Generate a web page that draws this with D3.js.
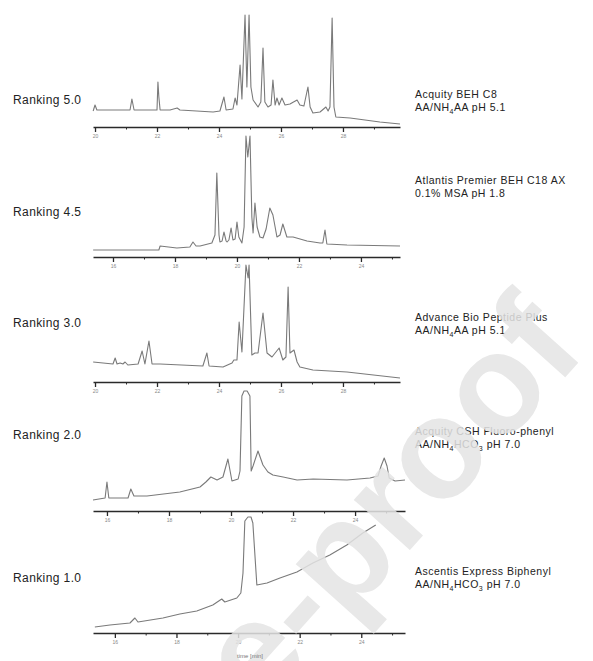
<!DOCTYPE html>
<head>
  <meta charset="utf-8">
  <title>Chromatogram ranking</title>
  <style>
    body { margin: 0; padding: 0; background: #fff; }
    svg { display: block; font-family: 'Liberation Sans', Arial, sans-serif; }
    .trace { fill: none; stroke: #7a7a7a; stroke-width: 1.1; stroke-linejoin: round; }
    .axis path, .axis line { stroke: #2a2a2a; }
    .axis path { stroke-width: 1.6; }
    .axis text { fill: #888; font-size: 5px; }
    .rank { fill: #222; font-size: 12px; letter-spacing: 0.4px; }
    .col { fill: #222; font-size: 10.5px; letter-spacing: 0.5px; }
  </style>
</head>
<body>
  <div id="vis"></div>
  <script src="https://cdnjs.cloudflare.com/ajax/libs/d3/7.8.5/d3.min.js"></script>
  <script>
    // rankings and column / mobile phase labels, top to bottom
    var rankings = ['Ranking 5.0', 'Ranking 4.5', 'Ranking 3.0', 'Ranking 2.0', 'Ranking 1.0'];
    var columns = ['Acquity BEH C8', 'Atlantis Premier BEH C18 AX', 'Advance Bio Peptide Plus',
                   'Acquity CSH Fluoro-phenyl', 'Ascentis Express Biphenyl'];
    var phases = [['AA/NH', '4', 'AA pH 5.1'], ['0.1% MSA pH 1.8'], ['AA/NH', '4', 'AA pH 5.1'],
                  ['AA/NH', '4', 'HCO', '3', ' pH 7.0'], ['AA/NH', '4', 'HCO', '3', ' pH 7.0']];

    // major (labelled) and minor ticks, minutes
    var major50 = [20, 22, 24, 26, 28], minor50 = [21, 23, 25, 27, 29];
    var major45 = [16, 18, 20, 22, 24], minor45 = [17, 19, 21, 23, 25];
    var major30 = [20, 22, 24, 26, 28], minor30 = [21, 23, 25, 27, 29];
    var major20 = [16, 18, 20, 22, 24], minor20 = [17, 19, 21, 23, 25];
    var major10 = [16, 18, 20, 22, 24], minor10 = [17, 19, 21, 23, 25];

    // traces: [time (min), signal]
    var trace50 = [[19.94,16],[20.0,22],[20.06,17],[20.48,17],[20.81,17],[21.13,17],[21.19,28],[21.26,17],
      [21.77,17],[22.0,17],[22.03,45],[22.06,30],[22.1,17],[22.42,17],[22.65,19],[22.74,17],[23.81,15],
      [24.03,16],[24.16,30],[24.23,17],[24.45,18],[24.52,29],[24.58,22],[24.68,62],[24.74,28],[24.84,112],
      [24.9,40],[24.97,112],[25.03,40],[25.1,27],[25.26,20],[25.35,25],[25.42,79],[25.48,25],[25.58,20],
      [25.68,22],[25.74,47],[25.81,22],[25.87,29],[25.94,22],[26.03,29],[26.13,22],[26.29,23],[26.52,27],
      [26.61,22],[26.74,21],[26.87,40],[26.94,20],[27.03,14],[27.26,15],[27.45,20],[27.52,16],[27.58,20],
      [27.65,109],[27.71,20],[27.77,10],[28.23,9],[28.71,7],[29.19,5],[29.84,3]];
    var trace45 = [[15.36,7],[17.48,7],[17.52,11],[18.06,9],[18.48,10],[18.58,15],[18.68,11],[18.81,11],
      [19.19,14],[19.29,22],[19.35,84],[19.42,22],[19.45,15],[19.52,16],[19.58,25],[19.65,16],[19.68,15],
      [19.74,17],[19.81,29],[19.87,17],[19.94,18],[20.0,35],[20.06,20],[20.16,14],[20.23,30],[20.29,121],
      [20.35,100],[20.42,121],[20.48,40],[20.52,24],[20.58,54],[20.65,30],[20.74,20],[20.84,19],[20.94,28],
      [21.06,49],[21.16,42],[21.29,20],[21.39,22],[21.48,33],[21.61,20],[21.81,20],[22.26,16],[22.68,14],
      [22.77,14],[22.84,27],[22.9,13],[23.55,12],[25.26,11]];
    var trace30 = [[19.94,20],[20.58,18],[20.65,24],[20.71,18],[20.81,19],[20.9,18],[20.97,20],[21.06,17],
      [21.39,18],[21.52,31],[21.61,18],[21.74,41],[21.84,18],[22.1,18],[23.48,16],[23.61,29],[23.68,16],
      [24.13,15],[24.42,19],[24.48,22],[24.58,22],[24.65,60],[24.74,30],[24.87,117],[24.94,104],[24.97,117],
      [25.06,27],[25.16,29],[25.26,29],[25.42,69],[25.55,29],[25.71,25],[25.94,34],[26.06,22],[26.16,25],
      [26.23,95],[26.29,29],[26.42,32],[26.52,20],[26.61,15],[27.03,12],[28.13,10],[29.84,4]];
    var trace20 = [[15.55,11],[15.94,13],[16.0,29],[16.06,13],[16.68,13],[16.77,22],[16.87,15],[17.29,15],
      [18.35,19],[19.0,24],[19.19,29],[19.35,34],[19.55,31],[19.74,34],[19.9,52],[20.03,30],[20.23,32],
      [20.29,40],[20.35,115],[20.42,120],[20.52,120],[20.61,115],[20.65,40],[20.71,45],[20.87,60],
      [21.03,46],[21.19,39],[21.35,36],[21.68,34],[22.13,31],[22.65,32],[23.74,31],[24.48,33],[24.74,35],
      [24.84,45],[24.94,53],[25.03,45],[25.1,33],[25.29,30],[25.61,31]];
    var trace10 = [[15.35,6],[15.84,8],[16.49,10],[16.65,15],[16.75,11],[17.56,15],[18.11,19],[18.66,22],
      [19.18,28],[19.47,34],[19.57,31],[19.96,35],[20.09,40],[20.16,60],[20.22,112],[20.32,116],[20.42,116],
      [20.48,110],[20.61,48],[20.94,50],[21.36,55],[21.91,61],[22.43,70],[22.98,78],[23.53,88],[24.05,100],
      [24.47,108]];

    var traces = [trace50, trace45, trace30, trace20, trace10];
    var majors = [major50, major45, major30, major20, major10];
    var minors = [minor50, minor45, minor30, minor20, minor10];

    // panel geometry
    var layout = [
      { axisY: 127, x0: 93, x1: 400, t0: 19.935, t1: 29.84, rankY: 104, colY: 98 },
      { axisY: 257, x0: 93, x1: 400, t0: 15.355, t1: 25.26, rankY: 216, colY: 184 },
      { axisY: 382, x0: 93, x1: 400, t0: 19.935, t1: 29.84, rankY: 327, colY: 321 },
      { axisY: 511, x0: 93, x1: 405, t0: 15.55, t1: 25.61, rankY: 439, colY: 435 },
      { axisY: 633, x0: 93, x1: 405, t0: 15.29, t1: 25.42, rankY: 582, colY: 575 }
    ];

    var width = 593, height = 661;
    var svg = d3.select('#vis').append('svg')
      .attr('width', width)
      .attr('height', height);

    layout.forEach(function(p, i) {
      var x = d3.scaleLinear().domain([p.t0, p.t1]).range([p.x0, p.x1]);
      var y = d3.scaleLinear().domain([0, 120]).range([p.axisY, p.axisY - 120]);

      var g = svg.append('g');

      g.append('path')
        .datum(traces[i])
        .attr('class', 'trace')
        .attr('d', d3.line().x(function(d) { return x(d[0]); }).y(function(d) { return y(d[1]); }));

      // minor ticks first, then the labelled ones with the domain line
      g.append('g')
        .attr('class', 'axis')
        .attr('transform', 'translate(0,' + p.axisY + ')')
        .call(d3.axisBottom(x).tickValues(minors[i]).tickSize(2.5).tickSizeOuter(0).tickFormat(''))
        .select('.domain').remove();

      g.append('g')
        .attr('class', 'axis')
        .attr('transform', 'translate(0,' + p.axisY + ')')
        .call(d3.axisBottom(x).tickValues(majors[i]).tickSize(5).tickSizeOuter(0).tickPadding(2))
        .selectAll('.tick line').attr('stroke-width', 1.3);

      svg.append('text')
        .attr('class', 'rank')
        .attr('x', 13)
        .attr('y', p.rankY)
        .text(rankings[i]);

      svg.append('text')
        .attr('class', 'col')
        .attr('x', 415)
        .attr('y', p.colY)
        .text(columns[i]);

      var t2 = svg.append('text')
        .attr('class', 'col')
        .attr('x', 415)
        .attr('y', p.colY + 13);
      phases[i].forEach(function(s) {
        var sub = /^[0-9]$/.test(s);
        t2.append('tspan')
          .attr('font-size', sub ? '7px' : null)
          .attr('dy', sub ? 2.5 : (s === phases[i][0] ? 0 : -2.5))
          .text(s);
      });
    });

    // watermark
    svg.append('text')
      .attr('transform', 'translate(588,352) rotate(-48)')
      .attr('font-size', '142px')
      .attr('font-weight', 'bold')
      .attr('fill', '#e4e4e4')
      .attr('opacity', 0.85)
      .attr('text-anchor', 'end')
      .text('Journal Pre-proof');

    svg.append('text')
      .attr('x', 250)
      .attr('y', 658)
      .attr('text-anchor', 'middle')
      .attr('fill', '#777')
      .attr('font-size', '6px')
      .text('time [min]');
  </script>
</body>
